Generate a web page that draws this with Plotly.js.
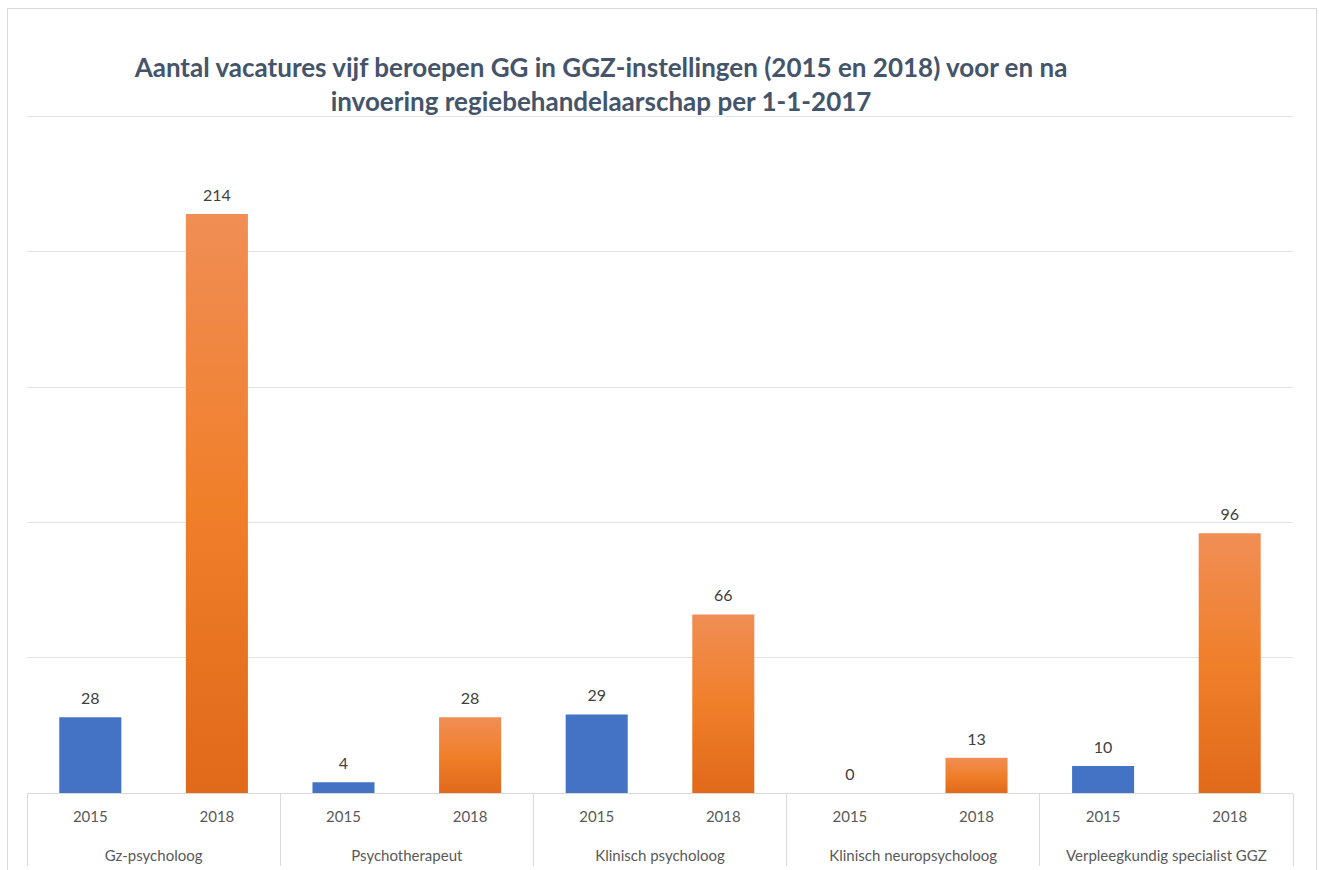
<!DOCTYPE html>
<html>
<head>
<meta charset="utf-8">
<script src="https://cdn.plot.ly/plotly-3.0.1.min.js"></script>
<style>
  html, body { margin: 0; padding: 0; background: #ffffff; overflow: hidden; }
  #chart { position: absolute; left: 7px; top: 8px; width: 1308px; height: 862px;
           border-left: 1px solid #d9d9d9; border-top: 1px solid #d9d9d9; border-right: 1px solid #d9d9d9; }
</style>
</head>
<body>
<div id="chart"></div>
<script>
const groups = ['Gz-psycholoog', 'Psychotherapeut', 'Klinisch psycholoog', 'Klinisch neuropsycholoog', 'Verpleegkundig specialist GGZ'];
const yearLabels = ['2015', '2018'];
const values2015 = [28, 4, 29, 0, 10];
const values2018 = [214, 28, 66, 13, 96];
const titleText = 'Aantal vacatures vijf beroepen GG in GGZ-instellingen (2015 en 2018) voor en na<br>invoering regiebehandelaarschap per 1-1-2017';

const FONT = 'Lato, "Open Sans", sans-serif';

function barTrace(yearIdx, values, color) {
  return {
    type: 'bar',
    name: yearLabels[yearIdx],
    x: [groups, groups.map(() => yearLabels[yearIdx])],
    y: values,
    width: 0.49,
    marker: { color: color, line: { width: 0 } },
    hoverinfo: 'none'
  };
}
function labelTrace(yearIdx, values) {
  return {
    type: 'scatter',
    mode: 'markers+text',
    x: [groups, groups.map(() => yearLabels[yearIdx])],
    y: values,
    text: values.map(String),
    textposition: 'top center',
    marker: { size: 13, opacity: 0, color: '#ffffff' },
    textfont: { family: FONT, size: 16, color: '#404040' },
    cliponaxis: false,
    hoverinfo: 'none'
  };
}

const data = [
  barTrace(0, values2015, '#4472C4'),
  barTrace(1, values2018, '#EB7A2E'),
  labelTrace(0, values2015),
  labelTrace(1, values2018)
];

const layout = {
  width: 1308,
  height: 862,
  paper_bgcolor: '#ffffff',
  plot_bgcolor: '#ffffff',
  margin: { l: 19, r: 23, t: 105, b: 78 },
  showlegend: false,
  barmode: 'overlay',
  font: { family: FONT, color: '#595959' },
  title: {
    text: titleText,
    font: { family: FONT, size: 26, color: '#44546A', weight: 'bold' },
    xref: 'container', x: 593 / 1308, xanchor: 'center',
    yref: 'container', y: 1 - 68 / 862, yanchor: 'middle'
  },
  xaxis: {
    type: 'multicategory',
    range: [-0.5, 9.5],
    autorange: false,
    showline: true,
    linecolor: '#d9d9d9',
    linewidth: 1,
    showgrid: false,
    showdividers: true,
    dividercolor: '#d9d9d9',
    dividerwidth: 1,
    ticklabelstandoff: 10,
    tickfont: { family: FONT, size: 15, color: '#595959' },
    automargin: false
  },
  yaxis: {
    range: [0, 251],
    dtick: 50,
    showticklabels: false,
    showgrid: true,
    gridcolor: '#e3e3e3',
    gridwidth: 1,
    zeroline: false,
    showline: false,
    automargin: false
  }
};

Plotly.newPlot('chart', data, layout, { displayModeBar: false, staticPlot: true }).then(gd => {
  const svg = gd.querySelector('.main-svg');
  const ns = 'http://www.w3.org/2000/svg';
  let defs = svg.querySelector('defs');
  if (!defs) { defs = document.createElementNS(ns, 'defs'); svg.insertBefore(defs, svg.firstChild); }
  const grad = document.createElementNS(ns, 'linearGradient');
  grad.setAttribute('id', 'orangeGrad');
  grad.setAttribute('x1', '0'); grad.setAttribute('y1', '0');
  grad.setAttribute('x2', '0'); grad.setAttribute('y2', '1');
  [['0%', '#F08E55'], ['50%', '#F07F2A'], ['100%', '#E0691A']].forEach(([o, c]) => {
    const s = document.createElementNS(ns, 'stop');
    s.setAttribute('offset', o); s.setAttribute('stop-color', c);
    grad.appendChild(s);
  });
  defs.appendChild(grad);
  const barTraces = gd.querySelectorAll('.barlayer .trace');
  if (barTraces[1]) {
    barTraces[1].querySelectorAll('path').forEach(p => { p.style.fill = 'url(#orangeGrad)'; });
  }
  // push the group (second-level) labels lower and lengthen the dividers, as in the reference
  gd.querySelectorAll('.xtick2').forEach(g => {
    g.setAttribute('transform', ((g.getAttribute('transform') || '') + ' translate(0,29)').trim());
  });
  gd.querySelectorAll('path.xdivider').forEach(p => {
    const d = p.getAttribute('d') || '';
    p.setAttribute('d', d.replace(/v[-\d.]+/, 'v72'));
  });
});
</script>
</body>
</html>
